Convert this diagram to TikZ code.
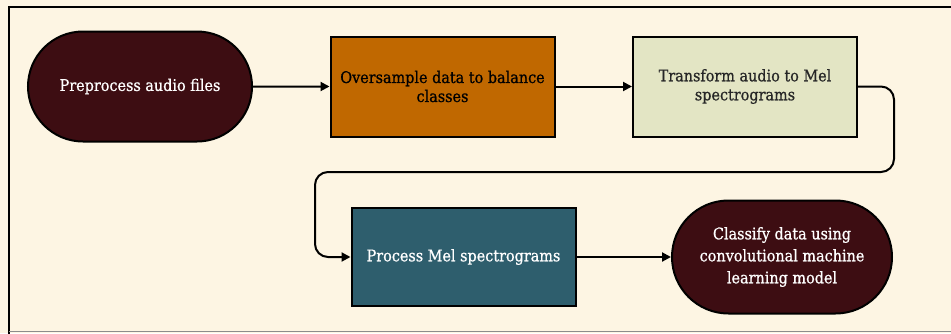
\documentclass[tikz,border=0pt]{standalone}
\usepackage{fontspec}
\setmainfont{DejaVu Serif Condensed}[FakeBold=0.8]
\usetikzlibrary{arrows.meta,shapes.misc}
\definecolor{paper}{HTML}{FDF5E3}
\definecolor{maroon}{HTML}{3D0D12}
\definecolor{amber}{HTML}{C06800}
\definecolor{sage}{HTML}{E3E5C4}
\definecolor{teal}{HTML}{2E5E6D}
\tikzset{
  x=1pt, y=-1pt,
  base/.style={draw=black, line width=2pt, align=center, font=\fontsize{16}{19}\selectfont,
    minimum width=224pt, inner sep=0pt},
  terminal/.style={base, rounded rectangle, fill=maroon, text=white, minimum height=110pt},
  stepbox/.style={base, rectangle, minimum height=100pt},
  flow/.style={line width=2pt, -{Triangle[length=9pt,width=9pt]}, rounded corners=13pt}
}
\begin{document}
\begin{tikzpicture}
  % page and frame
  \fill[paper] (0,0) rectangle (951,333);
  \useasboundingbox (0,0) rectangle (951,333);
  \draw[line width=2.5pt] (9,334) -- (9,7) -- (952,7);
  \draw[line width=1pt, black!45] (9,331.5) -- (952,331.5);

  % process nodes
  \node[terminal, minimum width=224pt] (pre) at (140,86.5) {Preprocess audio files};
  \node[stepbox, fill=amber, text=black] (over) at (442.5,86.5) {Oversample data to balance\\classes};
  \node[stepbox, fill=sage, text=black!85] (mel) at (745,86.5) {Transform audio to Mel\\spectrograms};
  \node[stepbox, fill=teal, text=white, minimum height=98pt] (proc) at (463.5,257) {Process Mel spectrograms};
  \node[terminal, minimum width=220pt, minimum height=113pt, font=\fontsize{16}{22}\selectfont] (cls) at (782,257) {Classify data using\\convolutional machine\\learning model};

  % connectors
  \draw[flow] (pre) -- (over);
  \draw[flow] (over) -- (mel);
  \draw[flow] (mel.east) -- ++(36,0) |- (315,172) |- (proc.west);
  \draw[flow] (proc) -- (cls);
\end{tikzpicture}
\end{document}
